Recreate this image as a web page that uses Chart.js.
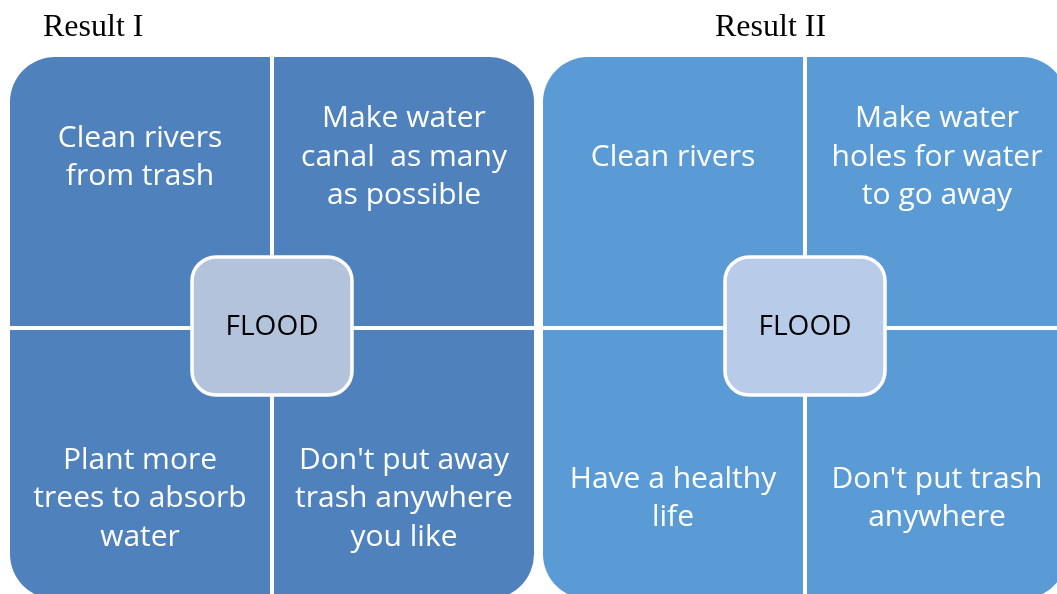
<!DOCTYPE html>
<html>
<head>
<meta charset="utf-8">
<script src="https://cdn.jsdelivr.net/npm/chart.js@4/dist/chart.umd.min.js"></script>
<style>
  html, body { margin: 0; padding: 0; background: #fff; overflow: hidden; }
  #wrap { width: 1080px; height: 610px; }
</style>
</head>
<body>
<div id="wrap"><canvas id="myChart" width="1080" height="610"></canvas></div>
<script>
// the two diagrams, one per category
const results = ['Result I', 'Result II'];
const centerLabel = 'FLOOD';

// each quadrant is one unit of the stacked axis
const quadrantValues = [1, 1];

// quadrant texts, one entry per result
const topLeftText = [['Clean rivers', 'from trash'], ['Clean rivers']];
const topRightText = [['Make water', 'canal  as many', 'as possible'], ['Make water', 'holes for water', 'to go away']];
const bottomLeftText = [['Plant more', 'trees to absorb', 'water'], ['Have a healthy', 'life']];
const bottomRightText = [["Don't put away", 'trash anywhere', 'you like'], ["Don't put trash", 'anywhere']];

const panelColors = ['#4f81bd', '#5b9bd5'];
const centerColors = ['#b4c3dc', '#b8cce9'];

const R = 47;
const ctx = document.getElementById('myChart').getContext('2d');

function quadrant(label, stack, radius, texts, top) {
  return {
    label: label,
    data: quadrantValues,
    stack: stack,
    texts: texts,
    isTop: top,
    backgroundColor: panelColors,
    borderColor: '#ffffff',
    borderWidth: 2,
    borderSkipped: false,
    borderRadius: radius
  };
}

// draws quadrant texts, the centre box and the titles
const diagramPlugin = {
  id: 'diagram',
  afterDatasetsDraw(chart) {
    const c = chart.ctx;
    const xs = chart.scales.x;
    const ys = chart.scales.y;
    c.save();
    c.textAlign = 'center';
    c.textBaseline = 'middle';

    c.fillStyle = '#ffffff';
    c.font = '30px "Open Sans"';
    chart.data.datasets.forEach(function(ds, di) {
      const meta = chart.getDatasetMeta(di);
      meta.data.forEach(function(bar, i) {
        const p = bar.getProps(['x', 'y', 'base'], true);
        const top = Math.min(p.y, p.base);
        const bottom = Math.max(p.y, p.base);
        const h = bottom - top;
        const cy = ds.isTop ? top + h * 0.375 : bottom - h * 0.375;
        const lines = ds.texts[i];
        const lh = 38.5;
        lines.forEach(function(t, k) {
          c.fillText(t, p.x, cy + (k - (lines.length - 1) / 2) * lh);
        });
      });
    });

    // centre box
    results.forEach(function(r, i) {
      const cx = xs.getPixelForValue(i);
      const cy = ys.getPixelForValue(1) - 2;
      const w = 160, h = 138;
      c.beginPath();
      c.roundRect(cx - w / 2, cy - h / 2, w, h, 24);
      c.fillStyle = centerColors[i];
      c.fill();
      c.lineWidth = 3.5;
      c.strokeStyle = '#ffffff';
      c.stroke();
      c.fillStyle = '#000000';
      c.font = '28px "Open Sans"';
      c.fillText(centerLabel, cx, cy + 1);
    });

    // titles
    const titleX = [43, 715];
    c.textAlign = 'left';
    c.textBaseline = 'alphabetic';
    c.fillStyle = '#000000';
    c.font = '32px "Liberation Serif"';
    results.forEach(function(r, i) {
      c.fillText(r, titleX[i], 36);
    });
    c.restore();
  }
};

new Chart(ctx, {
  type: 'bar',
  data: {
    labels: results,
    datasets: [
      quadrant('bottom-left', 'left', {bottomLeft: R}, bottomLeftText, false),
      quadrant('top-left', 'left', {topLeft: R}, topLeftText, true),
      quadrant('bottom-right', 'right', {bottomRight: R}, bottomRightText, false),
      quadrant('top-right', 'right', {topRight: R}, topRightText, true)
    ]
  },
  options: {
    responsive: false,
    animation: false,
    events: [],
    layout: { padding: { left: 5.5, right: 8.5, top: 55, bottom: 9 } },
    datasets: { bar: { categoryPercentage: 528 / 533, barPercentage: 1 } },
    scales: {
      x: { stacked: true, display: false },
      y: { stacked: true, display: false, min: 0, max: 2 }
    },
    plugins: {
      legend: { display: false },
      tooltip: { enabled: false },
      title: { display: false }
    }
  },
  plugins: [diagramPlugin]
});
</script>
</body>
</html>
